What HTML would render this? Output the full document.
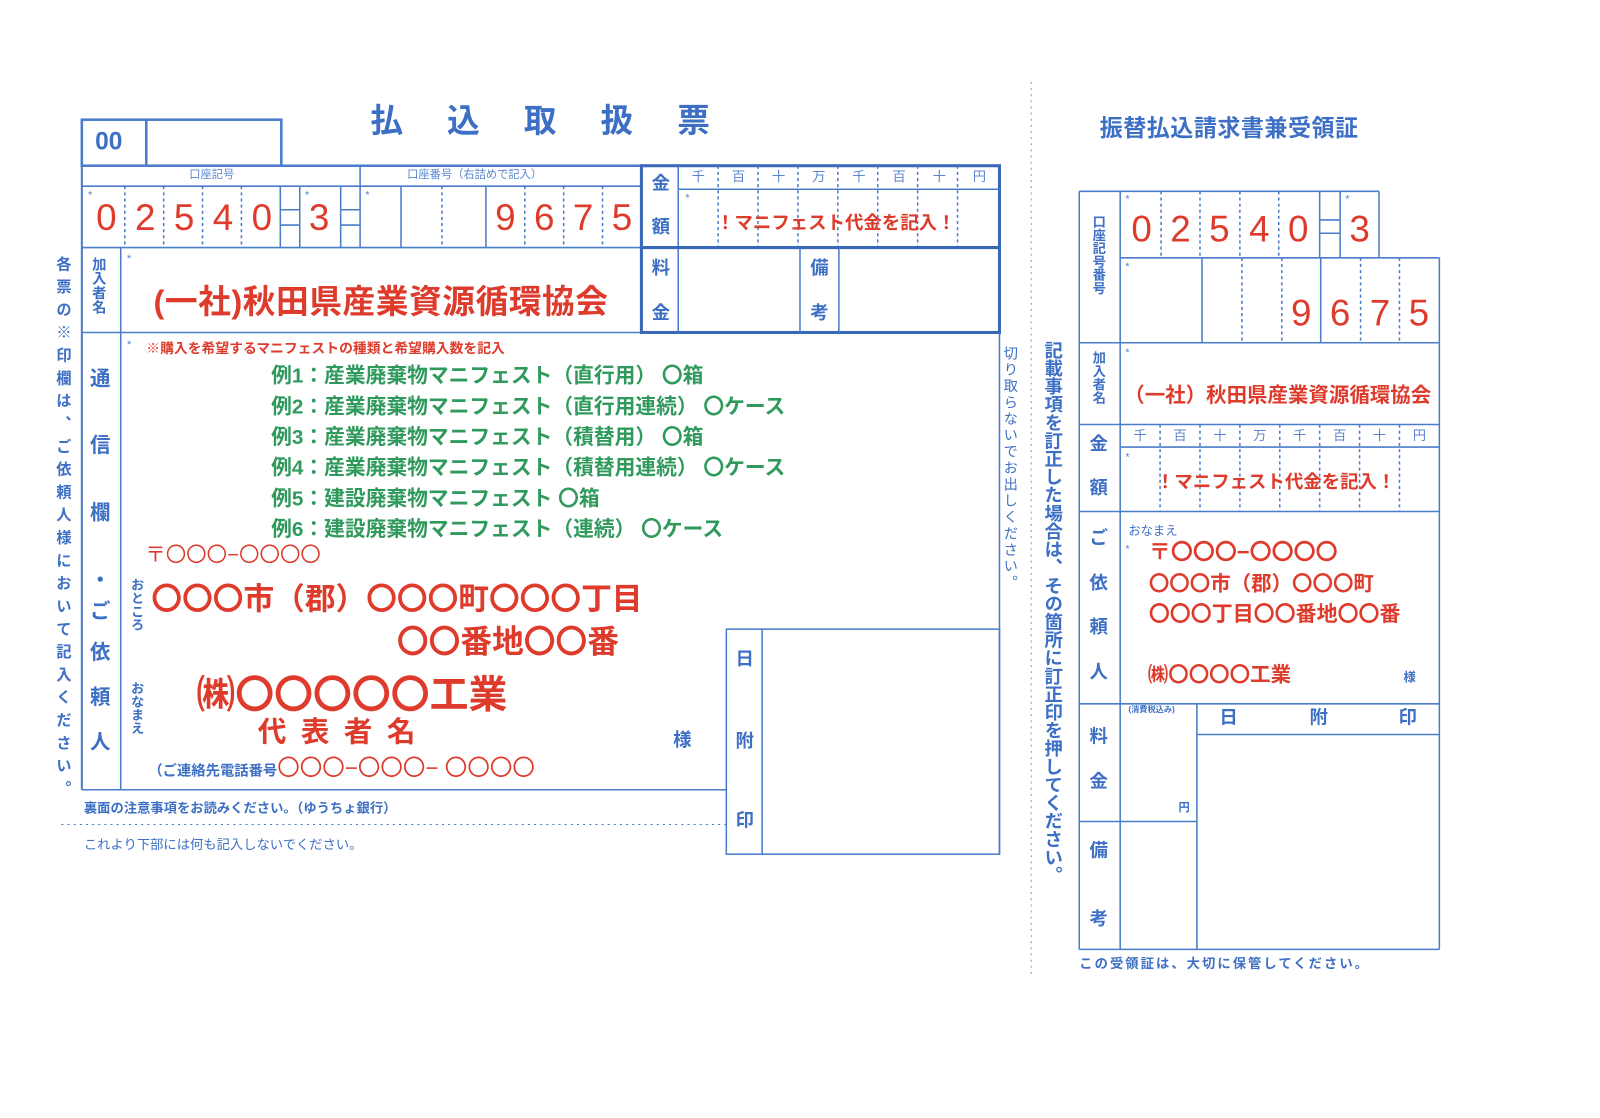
<!DOCTYPE html>
<html><head><meta charset="utf-8">
<style>
html,body{margin:0;padding:0;background:#fff;}
body{width:1600px;height:1118px;overflow:hidden;position:relative;}
#w{position:absolute;left:0;top:0;width:1564px;height:1093px;transform:scale(1.023);transform-origin:0 0;}
.t{position:absolute;white-space:nowrap;font-family:"Liberation Sans","Noto Sans CJK JP",sans-serif;line-height:1;}
.b{color:#3d70c4;font-weight:bold;}
.r{color:#de3b2c;}
.g{color:#2f9a5c;font-weight:bold;}
.v{writing-mode:vertical-rl;}
.d{font-family:"Liberation Sans",sans-serif;color:#de3b2c;font-size:36px;text-align:center;width:38px;}
.s{color:#5a86cf;font-size:11px;}
svg{position:absolute;left:0;top:0;}
</style></head><body><div id="w">
<svg width="1564" height="1093" stroke="#4a7cca" fill="none">
<g stroke-width="1.5">
<rect x="80" y="117" width="195" height="45" stroke-width="2.5"/>
<line x1="143" y1="117" x2="143" y2="162" stroke-width="2.5"/>
<line x1="80" y1="162" x2="977" y2="162" stroke-width="2.5"/>
<line x1="80" y1="162" x2="80" y2="772" stroke-width="2"/>
<line x1="80" y1="182" x2="627" y2="182"/>
<line x1="352" y1="162" x2="352" y2="242"/>
<g stroke-dasharray="3,3"><line x1="122" y1="182" x2="122" y2="242"/><line x1="160" y1="182" x2="160" y2="242"/><line x1="198" y1="182" x2="198" y2="242"/><line x1="236" y1="182" x2="236" y2="242"/>
<line x1="432" y1="182" x2="432" y2="242"/><line x1="513" y1="182" x2="513" y2="242"/><line x1="551" y1="182" x2="551" y2="242"/><line x1="589" y1="182" x2="589" y2="242"/></g>
<line x1="274" y1="182" x2="274" y2="242"/><line x1="293" y1="182" x2="293" y2="242"/><line x1="274" y1="205" x2="293" y2="205"/><line x1="274" y1="220" x2="293" y2="220"/>
<line x1="333" y1="182" x2="333" y2="242"/><line x1="333" y1="205" x2="352" y2="205"/><line x1="333" y1="220" x2="352" y2="220"/>
<line x1="392" y1="182" x2="392" y2="242"/><line x1="475" y1="182" x2="475" y2="242"/>
<line x1="80" y1="242" x2="627" y2="242"/>
<line x1="118" y1="242" x2="118" y2="772"/>
<line x1="80" y1="325" x2="977" y2="325"/>
<rect x="627" y="162" width="350" height="163" stroke-width="3" stroke="#3a68b8"/>
<line x1="663" y1="162" x2="663" y2="325"/>
<line x1="663" y1="185" x2="977" y2="185"/>
<g stroke-dasharray="3,3"><line x1="702" y1="162" x2="702" y2="242"/><line x1="741" y1="162" x2="741" y2="242"/><line x1="780" y1="162" x2="780" y2="242"/><line x1="819" y1="162" x2="819" y2="242"/><line x1="858" y1="162" x2="858" y2="242"/><line x1="897" y1="162" x2="897" y2="242"/><line x1="936" y1="162" x2="936" y2="242"/></g>
<line x1="627" y1="242" x2="977" y2="242" stroke-width="3" stroke="#3a68b8"/>
<line x1="782" y1="242" x2="782" y2="325"/><line x1="820" y1="242" x2="820" y2="325"/>
<line x1="977" y1="325" x2="977" y2="835"/>
<line x1="80" y1="772" x2="710" y2="772"/>
<rect x="710" y="615" width="267" height="220"/>
<line x1="745" y1="615" x2="745" y2="835"/>
<line x1="60" y1="806" x2="710" y2="806" stroke-dasharray="2,4" stroke-width="1"/>
<line x1="1008" y1="80" x2="1008" y2="955" stroke-dasharray="2,4" stroke-width="1" stroke="#999"/>
<line x1="1055" y1="187" x2="1055" y2="928"/>
<line x1="1095" y1="187" x2="1095" y2="928"/>
<line x1="1055" y1="187" x2="1348" y2="187"/>
<g stroke-dasharray="3,3"><line x1="1135" y1="187" x2="1135" y2="252"/><line x1="1173" y1="187" x2="1173" y2="252"/><line x1="1212" y1="187" x2="1212" y2="252"/><line x1="1250" y1="187" x2="1250" y2="252"/>
<line x1="1214" y1="252" x2="1214" y2="335"/><line x1="1253" y1="252" x2="1253" y2="335"/><line x1="1330" y1="252" x2="1330" y2="335"/><line x1="1368" y1="252" x2="1368" y2="335"/>
<line x1="1134" y1="415" x2="1134" y2="500"/><line x1="1173" y1="415" x2="1173" y2="500"/><line x1="1212" y1="415" x2="1212" y2="500"/><line x1="1251" y1="415" x2="1251" y2="500"/><line x1="1290" y1="415" x2="1290" y2="500"/><line x1="1329" y1="415" x2="1329" y2="500"/><line x1="1368" y1="415" x2="1368" y2="500"/></g>
<line x1="1290" y1="187" x2="1290" y2="252"/><line x1="1310" y1="187" x2="1310" y2="252"/><line x1="1290" y1="215" x2="1310" y2="215"/><line x1="1290" y1="228" x2="1310" y2="228"/>
<line x1="1348" y1="187" x2="1348" y2="252"/>
<line x1="1095" y1="252" x2="1407" y2="252"/>
<line x1="1407" y1="252" x2="1407" y2="928"/>
<line x1="1175" y1="252" x2="1175" y2="335"/><line x1="1291" y1="252" x2="1291" y2="335"/>
<line x1="1055" y1="335" x2="1407" y2="335"/>
<line x1="1055" y1="415" x2="1407" y2="415"/>
<line x1="1095" y1="437" x2="1407" y2="437"/>
<line x1="1055" y1="500" x2="1407" y2="500"/>
<line x1="1055" y1="688" x2="1407" y2="688"/>
<line x1="1170" y1="688" x2="1170" y2="928"/>
<line x1="1170" y1="718" x2="1407" y2="718"/>
<line x1="1055" y1="803" x2="1170" y2="803"/>
<line x1="1055" y1="928" x2="1407" y2="928"/>
</g></svg>

<div class="t b" style="left:93px;top:127px;font-size:24px;">00</div>
<div class="t b" style="left:362px;top:102px;font-size:32px;letter-spacing:43px;">払込取扱票</div>
<div class="t s" style="left:185px;top:166px;">口座記号</div>
<div class="t s" style="left:398px;top:166px;">口座番号（右詰めで記入）</div>
<div class="t s" style="left:86px;top:186px;">*</div><div class="t s" style="left:298px;top:186px;">*</div><div class="t s" style="left:357px;top:186px;">*</div>

<div class="t d" style="left:85px;top:195px;">0</div><div class="t d" style="left:123px;top:195px;">2</div><div class="t d" style="left:161px;top:195px;">5</div><div class="t d" style="left:199px;top:195px;">4</div><div class="t d" style="left:237px;top:195px;">0</div><div class="t d" style="left:293px;top:195px;">3</div>
<div class="t d" style="left:475px;top:195px;">9</div><div class="t d" style="left:513px;top:195px;">6</div><div class="t d" style="left:551px;top:195px;">7</div><div class="t d" style="left:589px;top:195px;">5</div>

<div class="t b" style="left:637px;top:170px;font-size:18px;">金</div>
<div class="t b" style="left:637px;top:213px;font-size:18px;">額</div>
<div class="t s" style="left:663px;top:166px;width:314px;display:flex;justify-content:space-around;font-size:13px;"><span>千</span><span>百</span><span>十</span><span>万</span><span>千</span><span>百</span><span>十</span><span>円</span></div>
<div class="t s" style="left:670px;top:189px;">*</div>
<div class="t r" style="left:700px;top:209px;font-size:18px;font-weight:bold;">！マニフェスト代金を記入！</div>
<div class="t b" style="left:637px;top:253px;font-size:18px;">料</div>
<div class="t b" style="left:637px;top:297px;font-size:18px;">金</div>
<div class="t b" style="left:792px;top:253px;font-size:18px;">備</div>
<div class="t b" style="left:792px;top:297px;font-size:18px;">考</div>

<div class="t b v" style="left:90px;top:251px;font-size:14px;">加入者名</div>
<div class="t s" style="left:124px;top:248px;">*</div>
<div class="t r" style="left:150px;top:279px;font-size:32px;font-weight:bold;letter-spacing:0.5px;">(一社)秋田県産業資源循環協会</div>
<div class="t s" style="left:124px;top:332px;">*</div>
<div class="t r" style="left:143px;top:334px;font-size:13.5px;font-weight:bold;">※購入を希望するマニフェストの種類と希望購入数を記入</div>

<div class="t g" style="left:265px;top:358px;font-size:20.3px;">例1：産業廃棄物マニフェスト（直行用） 〇箱</div>
<div class="t g" style="left:265px;top:388px;font-size:20.3px;">例2：産業廃棄物マニフェスト（直行用連続） 〇ケース</div>
<div class="t g" style="left:265px;top:418px;font-size:20.3px;">例3：産業廃棄物マニフェスト（積替用） 〇箱</div>
<div class="t g" style="left:265px;top:448px;font-size:20.3px;">例4：産業廃棄物マニフェスト（積替用連続） 〇ケース</div>
<div class="t g" style="left:265px;top:478px;font-size:20.3px;">例5：建設廃棄物マニフェスト 〇箱</div>
<div class="t g" style="left:265px;top:508px;font-size:20.3px;">例6：建設廃棄物マニフェスト（連続） 〇ケース</div>

<div class="t b" style="left:88px;top:361px;font-size:20px;">通</div>
<div class="t b" style="left:88px;top:426px;font-size:20px;">信</div>
<div class="t b" style="left:88px;top:492px;font-size:20px;">欄</div>
<div class="t b" style="left:88px;top:558px;font-size:20px;">・</div>
<div class="t b" style="left:88px;top:588px;font-size:20px;">ご</div>
<div class="t b" style="left:88px;top:628px;font-size:20px;">依</div>
<div class="t b" style="left:88px;top:672px;font-size:20px;">頼</div>
<div class="t b" style="left:88px;top:716px;font-size:20px;">人</div>

<div class="t r" style="left:142px;top:533px;font-size:20px;">〒〇〇〇−〇〇〇〇</div>
<div class="t b v" style="left:127px;top:565px;font-size:13px;">おところ</div>
<div class="t r" style="left:148px;top:572px;font-size:30px;font-weight:bold;">〇〇〇市（郡）〇〇〇町〇〇〇丁目</div>
<div class="t r" style="left:388px;top:612px;font-size:31px;font-weight:bold;">〇〇番地〇〇番</div>
<div class="t b v" style="left:127px;top:666px;font-size:13px;">おなまえ</div>
<div class="t r" style="left:192px;top:661px;font-size:38px;font-weight:bold;">㈱〇〇〇〇〇工業</div>
<div class="t r" style="left:252px;top:702px;font-size:28px;font-weight:bold;letter-spacing:14px;">代表者名</div>
<div class="t b" style="left:658px;top:714px;font-size:18px;">様</div>
<div class="t" style="left:145px;top:740px;"><span class="b" style="font-size:14px;">（ご連絡先電話番号</span><span class="r" style="font-size:22px;">〇〇〇−〇〇〇− 〇〇〇〇</span></div>

<div class="t b" style="left:719px;top:635px;font-size:18px;">日</div>
<div class="t b" style="left:719px;top:715px;font-size:18px;">附</div>
<div class="t b" style="left:719px;top:793px;font-size:18px;">印</div>

<div class="t b" style="left:82px;top:783px;font-size:13px;">裏面の注意事項をお読みください。（ゆうちょ銀行）</div>
<div class="t b" style="left:82px;top:819px;font-size:13px;font-weight:normal;">これより下部には何も記入しないでください。</div>

<div class="t b v" style="left:54px;top:250px;font-size:15px;letter-spacing:7.3px;">各票の※印欄は、ご依頼人様において記入ください。</div>
<div class="t b v" style="left:981px;top:338px;font-size:14px;letter-spacing:2px;font-weight:normal;">切り取らないでお出しください。</div>
<div class="t b v" style="left:1020px;top:333px;font-size:18px;letter-spacing:-0.3px;">記載事項を訂正した場合は、その箇所に訂正印を押してください。</div>

<div class="t b" style="left:1075px;top:115px;font-size:22.5px;letter-spacing:0.5px;">振替払込請求書兼受領証</div>
<div class="t b v" style="left:1067px;top:210px;font-size:13px;">口座記号番号</div>
<div class="t s" style="left:1100px;top:190px;">*</div><div class="t s" style="left:1315px;top:190px;">*</div><div class="t s" style="left:1100px;top:256px;">*</div>
<div class="t d" style="left:1097px;top:206px;">0</div><div class="t d" style="left:1135px;top:206px;">2</div><div class="t d" style="left:1173px;top:206px;">5</div><div class="t d" style="left:1212px;top:206px;">4</div><div class="t d" style="left:1250px;top:206px;">0</div><div class="t d" style="left:1310px;top:206px;">3</div>
<div class="t d" style="left:1253px;top:288px;">9</div><div class="t d" style="left:1291px;top:288px;">6</div><div class="t d" style="left:1330px;top:288px;">7</div><div class="t d" style="left:1368px;top:288px;">5</div>

<div class="t b v" style="left:1067px;top:343px;font-size:13px;">加入者名</div>
<div class="t s" style="left:1100px;top:340px;">*</div>
<div class="t r" style="left:1099px;top:377px;font-size:20px;font-weight:bold;">（一社）秋田県産業資源循環協会</div>

<div class="t b" style="left:1065px;top:425px;font-size:18px;">金</div>
<div class="t b" style="left:1065px;top:468px;font-size:18px;">額</div>
<div class="t s" style="left:1095px;top:419px;width:312px;display:flex;justify-content:space-around;font-size:13px;"><span>千</span><span>百</span><span>十</span><span>万</span><span>千</span><span>百</span><span>十</span><span>円</span></div>
<div class="t s" style="left:1100px;top:442px;">*</div>
<div class="t r" style="left:1130px;top:462px;font-size:18px;font-weight:bold;">！マニフェスト代金を記入！</div>

<div class="t b" style="left:1065px;top:517px;font-size:18px;">ご</div>
<div class="t b" style="left:1065px;top:561px;font-size:18px;">依</div>
<div class="t b" style="left:1065px;top:604px;font-size:18px;">頼</div>
<div class="t b" style="left:1065px;top:648px;font-size:18px;">人</div>
<div class="t b" style="left:1103px;top:513px;font-size:12px;font-weight:normal;">おなまえ</div>
<div class="t s" style="left:1100px;top:532px;">*</div>
<div class="t r" style="left:1123px;top:530px;font-size:21.5px;font-weight:bold;">〒〇〇〇−〇〇〇〇</div>
<div class="t r" style="left:1123px;top:561px;font-size:20px;font-weight:bold;">〇〇〇市（郡）〇〇〇町</div>
<div class="t r" style="left:1123px;top:591px;font-size:20.5px;font-weight:bold;">〇〇〇丁目〇〇番地〇〇番</div>
<div class="t r" style="left:1122px;top:650px;font-size:20px;font-weight:bold;">㈱〇〇〇〇工業</div>
<div class="t b" style="left:1372px;top:656px;font-size:12px;">様</div>

<div class="t b" style="left:1103px;top:690px;font-size:8px;">(消費税込み)</div>
<div class="t b" style="left:1065px;top:711px;font-size:18px;">料</div>
<div class="t b" style="left:1065px;top:755px;font-size:18px;">金</div>
<div class="t b" style="left:1152px;top:785px;font-size:11px;">円</div>
<div class="t b" style="left:1192px;top:692px;font-size:18px;">日</div>
<div class="t b" style="left:1280px;top:692px;font-size:18px;">附</div>
<div class="t b" style="left:1367px;top:692px;font-size:18px;">印</div>
<div class="t b" style="left:1065px;top:822px;font-size:18px;">備</div>
<div class="t b" style="left:1065px;top:889px;font-size:18px;">考</div>
<div class="t b" style="left:1055px;top:935px;font-size:13px;letter-spacing:2px;">この受領証は、大切に保管してください。</div>
</div></body></html>
